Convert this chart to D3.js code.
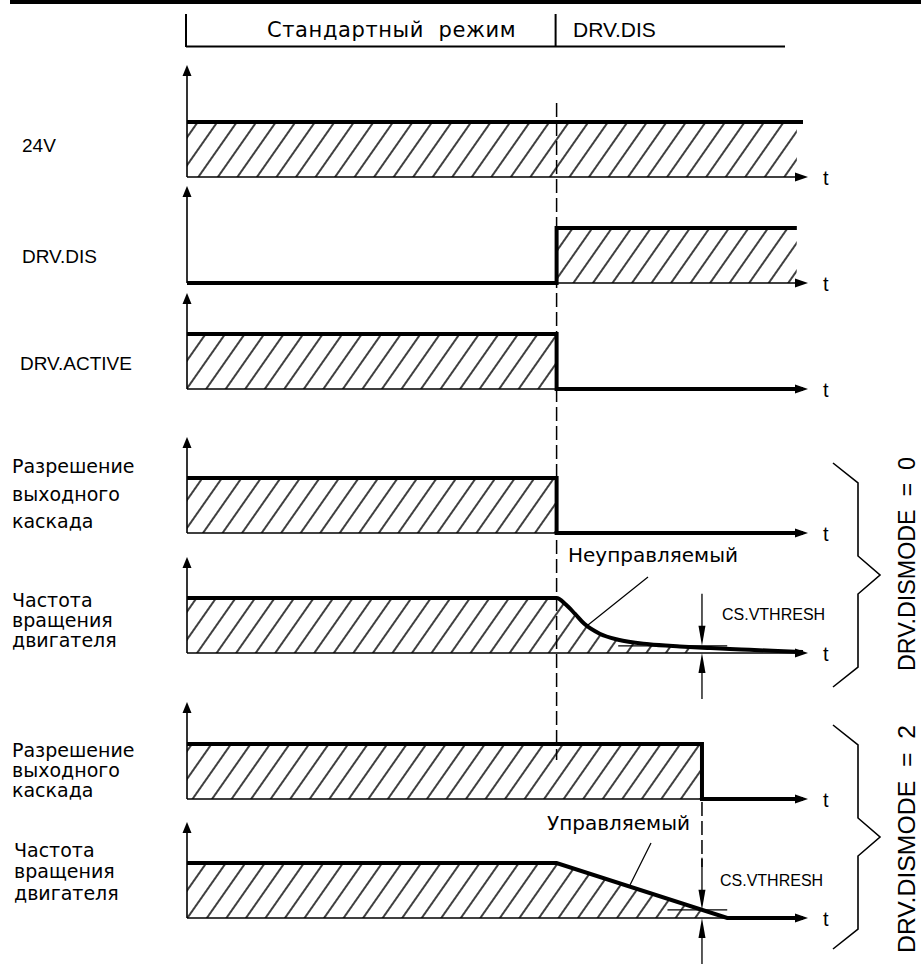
<!DOCTYPE html>
<html>
<head>
<meta charset="utf-8">
<script src="https://cdn.jsdelivr.net/npm/d3@7"></script>
<style>
	body { margin: 0; background: #fff; }
	svg { display: block; }
</style>
</head>
<body>
<div id="chart"></div>
<script>
// time points (arbitrary units, 0..10 along the t axis)
var tDisable = 6,
		tStop = 8.36,
		tRampEnd = 8.77;

var phaseLabels = ["Стандартный  режим", "DRV.DIS"];
var modeLabels = ["DRV.DISMODE  =  0", "DRV.DISMODE  =  2"];
var curveLabels = ["Неуправляемый", "Управляемый"];
var threshLabel = "CS.VTHRESH";

var signalLabels = [
	["24V"],
	["DRV.DIS"],
	["DRV.ACTIVE"],
	["Разрешение", "выходного", "каскада"],
	["Частота", "вращения", "двигателя"],
	["Разрешение", "выходного", "каскада"],
	["Частота", "вращения", "двигателя"]
];

// signal levels [t, value]
var supply24V = [[0, 1], [10, 1]];
var drvDis = [[0, 0], [6, 0], [6, 1], [9.9, 1]];
var drvActive = [[0, 1], [6, 1], [6, 0], [10, 0]];
var enableMode0 = [[0, 1], [6, 1], [6, 0], [10, 0]];
var speedMode0 = [[0, 1], [6, 1], [6.15, 0.88], [6.3, 0.71], [6.45, 0.53], [6.7, 0.35], [7, 0.24],
	[7.5, 0.16], [8, 0.12], [8.5, 0.09], [9, 0.065], [9.5, 0.04], [10, 0.02]];
var enableMode2 = [[0, 1], [8.36, 1], [8.36, 0], [10, 0]];
var speedMode2 = [[0, 1], [6, 1], [8.77, 0], [10, 0]];

var signals = [supply24V, drvDis, drvActive, enableMode0, speedMode0, enableMode2, speedMode2];
// hatched span [from, to] for each signal
var hatchSpans = [[0, 9.9], [6, 9.9], [0, 6], [0, 6], [0, 8.36], [0, 8.36], [0, 8.36]];
var thresholds = [0.13, 0.148];
var thresholdSpans = [[7.0, 8.77], [7.8, 8.77]];

// layout
var width = 921, height = 966;
var baselines = [177, 283, 389, 533, 653, 799, 918],
		axisTops = [65, 186, 293, 437, 557, 702, 822],
		levelH = 55;
var labelLines = [[152], [263], [370], [473, 501, 528], [607, 627, 647], [757, 777, 797], [857, 878, 900]];
var labelX = [22, 22, 20, 12, 12, 12, 14];

var latin = "'Liberation Sans', Arial, sans-serif",
		cyr = "'DejaVu Sans', sans-serif";

var svg = d3.select("#chart").append("svg")
		.attr("width", width)
		.attr("height", height);

var x = d3.scaleLinear().domain([0, 10]).range([187, 803]);

var defs = svg.append("defs");
defs.append("pattern")
		.attr("id", "hatch")
		.attr("patternUnits", "userSpaceOnUse")
		.attr("width", 16)
		.attr("height", 16)
		.attr("patternTransform", "rotate(35)")
	.append("line")
		.attr("x1", 8).attr("y1", 0)
		.attr("x2", 8).attr("y2", 16)
		.attr("stroke", "#000")
		.attr("stroke-width", 1.5);

function arrowHead(g, px, py, dir, len, half) {
	var pts;
	if (dir === "up") pts = [[px, py], [px - half, py + len], [px + half, py + len]];
	else if (dir === "down") pts = [[px, py], [px - half, py - len], [px + half, py - len]];
	else pts = [[px, py], [px - len, py - half], [px - len, py + half]];
	g.append("path").attr("d", "M" + pts.join("L") + "Z").attr("fill", "#000");
}

// top border
svg.append("rect").attr("x", 10).attr("y", 0).attr("width", width - 10).attr("height", 4).attr("fill", "#000");

// header
var header = svg.append("g").attr("stroke", "#000").attr("stroke-width", 2).attr("fill", "none");
header.append("line").attr("x1", 186).attr("y1", 14).attr("x2", 186).attr("y2", 47);
header.append("line").attr("x1", x(tDisable) - 1).attr("y1", 14).attr("x2", x(tDisable) - 1).attr("y2", 47);
header.append("line").attr("x1", 186).attr("y1", 46.5).attr("x2", 785).attr("y2", 46.5);
svg.append("text").attr("x", 267).attr("y", 37)
		.style("font-family", cyr).style("font-size", "21px").style("letter-spacing", "0.6px")
		.attr("xml:space", "preserve")
		.text(phaseLabels[0]);
svg.append("text").attr("x", 573).attr("y", 37)
		.style("font-family", latin).style("font-size", "21px")
		.text(phaseLabels[1]);

// dashed guides
var guides = svg.append("g").attr("stroke", "#000").attr("stroke-width", 1.5).attr("stroke-dasharray", "14,5");
guides.append("line").attr("x1", x(tDisable)).attr("x2", x(tDisable)).attr("y1", 103).attr("y2", 760);
guides.append("line").attr("x1", x(tStop)).attr("x2", x(tStop)).attr("y1", baselines[5] + 3).attr("y2", 867);

// panels
signals.forEach(function(data, i) {
	var base = baselines[i];
	var y = d3.scaleLinear().domain([0, 1]).range([base, base - levelH]);
	var g = svg.append("g").attr("class", "panel");
	var curve = i === 4 ? d3.curveMonotoneX : d3.curveLinear;

	var clipId = "clip" + i;
	defs.append("clipPath").attr("id", clipId)
		.append("rect")
			.attr("x", x(hatchSpans[i][0]))
			.attr("y", base - levelH - 5)
			.attr("width", x(hatchSpans[i][1]) - x(hatchSpans[i][0]))
			.attr("height", levelH + 5);

	var area = d3.area()
			.x(function(d) { return x(d[0]); })
			.y0(base)
			.y1(function(d) { return y(d[1]); })
			.curve(curve);

	g.append("path")
			.datum(data)
			.attr("d", area)
			.attr("fill", "url(#hatch)")
			.attr("clip-path", "url(#" + clipId + ")");

	// axes
	g.append("line").attr("x1", x(0)).attr("x2", x(0)).attr("y1", base).attr("y2", axisTops[i] + 6)
			.attr("stroke", "#000").attr("stroke-width", 1.6);
	arrowHead(g, x(0), axisTops[i], "up", 11, 4.5);
	g.append("line").attr("x1", x(0)).attr("x2", x(10) - 2).attr("y1", base).attr("y2", base)
			.attr("stroke", "#000").attr("stroke-width", 1.6);
	arrowHead(g, x(10) + 5, base, "right", 13, 4.5);
	g.append("text").attr("x", 823).attr("y", base + 8)
			.style("font-family", latin).style("font-size", "20px")
			.text("t");

	var line = d3.line()
			.x(function(d) { return x(d[0]); })
			.y(function(d) { return y(d[1]); })
			.curve(curve);

	g.append("path")
			.datum(data)
			.attr("d", line)
			.attr("fill", "none")
			.attr("stroke", "#000")
			.attr("stroke-width", 4)
			.attr("stroke-linejoin", "miter");

	// labels
	var isLatin = /^[A-Z0-9]/.test(signalLabels[i][0]);
	signalLabels[i].forEach(function(txt, k) {
		g.append("text")
				.attr("x", labelX[i])
				.attr("y", labelLines[i][k])
				.style("font-family", isLatin ? latin : cyr)
				.style("font-size", "19px")
				.text(txt);
	});
});

// thresholds and CS.VTHRESH markers
[4, 6].forEach(function(pi, k) {
	var base = baselines[pi];
	var y = d3.scaleLinear().domain([0, 1]).range([base, base - levelH]);
	var g = svg.append("g");
	var ty = y(thresholds[k]);
	g.append("line")
			.attr("x1", x(thresholdSpans[k][0])).attr("x2", x(thresholdSpans[k][1]))
			.attr("y1", ty).attr("y2", ty)
			.attr("stroke", "#000").attr("stroke-width", 1.3);
	var mx = x(tStop);
	g.append("line").attr("x1", mx).attr("x2", mx).attr("y1", ty - 52).attr("y2", ty - 10)
			.attr("stroke", "#000").attr("stroke-width", 1.3);
	arrowHead(g, mx, ty, "down", 20, 3.5);
	g.append("line").attr("x1", mx).attr("x2", mx).attr("y1", base + 46).attr("y2", base + 10)
			.attr("stroke", "#000").attr("stroke-width", 1.3);
	arrowHead(g, mx, base, "up", 20, 3.5);
	g.append("text")
			.attr("x", k === 0 ? 722 : 720)
			.attr("y", k === 0 ? 620 : 886)
			.style("font-family", latin).style("font-size", "16px")
			.text(threshLabel);
});

// curve annotations
var notes = svg.append("g");
notes.append("text").attr("x", 568).attr("y", 562)
		.style("font-family", cyr).style("font-size", "20px").text(curveLabels[0]);
notes.append("line").attr("x1", 648).attr("y1", 577).attr("x2", 588).attr("y2", 625)
		.attr("stroke", "#000").attr("stroke-width", 1.3);
notes.append("text").attr("x", 547).attr("y", 830)
		.style("font-family", cyr).style("font-size", "20px").text(curveLabels[1]);
notes.append("line").attr("x1", 651).attr("y1", 843).attr("x2", 630).attr("y2", 885)
		.attr("stroke", "#000").attr("stroke-width", 1.3);

// braces + mode labels
function bracePoints(top, bottom) {
	var mid = (top + bottom) / 2;
	return [[833, top], [858, top + 20], [858, mid - 19], [880, mid], [858, mid + 19], [858, bottom - 20], [833, bottom]];
}
var braces = [[463, 687], [725, 949]];
var modeLabelPos = [[915, 671, 214], [915, 953, 228]];
braces.forEach(function(b, k) {
	svg.append("path")
			.attr("d", d3.line()(bracePoints(b[0], b[1])))
			.attr("fill", "none").attr("stroke", "#000").attr("stroke-width", 1.6);
	svg.append("text")
			.attr("transform", "translate(" + modeLabelPos[k][0] + "," + modeLabelPos[k][1] + ") rotate(-90)")
			.attr("textLength", modeLabelPos[k][2])
			.attr("lengthAdjust", "spacingAndGlyphs")
			.attr("xml:space", "preserve")
			.style("font-family", latin).style("font-size", "23px")
			.text(modeLabels[k]);
});
</script>
</body>
</html>
